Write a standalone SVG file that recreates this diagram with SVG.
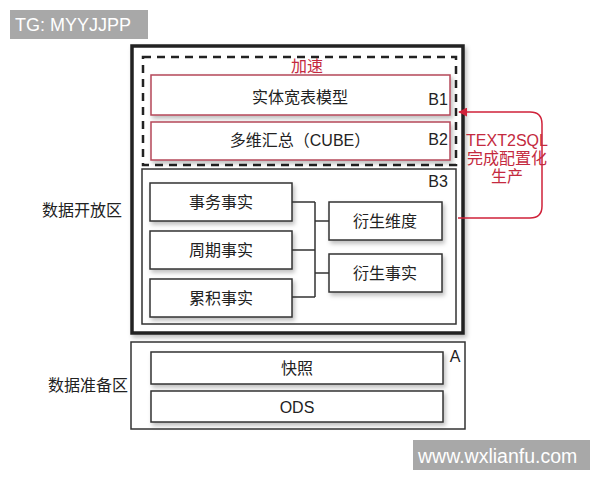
<svg xmlns="http://www.w3.org/2000/svg" width="600" height="480" viewBox="0 0 600 480">
<defs>
<filter id="sh" x="-10%" y="-20%" width="125%" height="150%">
<feDropShadow dx="2" dy="3" stdDeviation="2" flood-color="#000" flood-opacity="0.25"/>
</filter>
<marker id="arr" viewBox="0 0 10 10" refX="9" refY="5" markerWidth="6" markerHeight="6" orient="auto-start-reverse">
<path d="M0,0 L10,5 L0,10 z" fill="#d0223a"/>
</marker>
<style>
text{font-family:"Liberation Sans","Noto Sans CJK SC",sans-serif;font-size:16px;fill:#222;text-anchor:middle;dominant-baseline:central}
.box{fill:#fff;stroke:#333;stroke-width:1.5}
.rbox{fill:#fff;stroke:#b5485a;stroke-width:1.5}
.red{fill:#c42a40}
.wm{fill:#fff;font-size:18px;text-anchor:start}
.wm2{fill:#fff;font-size:19.5px;text-anchor:start}
.conn{fill:none;stroke:#333;stroke-width:1.5}
</style>
</defs>
<rect width="600" height="480" fill="#fff"/>

<g id="watermark-tg">
<rect x="10" y="10" width="138" height="29" fill="#a8a8a8"/>
<text class="wm" x="15" y="25">TG: MYYJJPP</text>
</g>

<g id="zone-open">
<rect x="132" y="46" width="331" height="287" fill="#fff" stroke="#222" stroke-width="3.5" filter="url(#sh)"/>
<text x="82" y="210">数据开放区</text>
</g>

<g id="accel">
<rect x="143" y="57" width="313" height="108" fill="none" stroke="#222" stroke-width="2.5" stroke-dasharray="8,6"/>
<text class="red" x="307" y="66">加速</text>
</g>

<g id="b1">
<rect class="rbox" x="151" y="75" width="299" height="40" filter="url(#sh)"/>
<text x="300" y="97">实体宽表模型</text>
<text x="438" y="99">B1</text>
</g>

<g id="b2">
<rect class="rbox" x="151" y="122" width="299" height="38" filter="url(#sh)"/>
<text x="300" y="140">多维汇总（CUBE）</text>
<text x="438" y="139">B2</text>
</g>

<g id="b3">
<rect class="box" x="142" y="169" width="314" height="155" stroke-width="1.2"/>
<text x="438" y="181">B3</text>
</g>

<g id="n-shiwu">
<rect class="box" x="150" y="183" width="142" height="38" filter="url(#sh)"/>
<text x="221" y="202">事务事实</text>
</g>
<g id="n-zhouqi">
<rect class="box" x="150" y="231" width="142" height="38" filter="url(#sh)"/>
<text x="221" y="250">周期事实</text>
</g>
<g id="n-leiji">
<rect class="box" x="150" y="279" width="142" height="38" filter="url(#sh)"/>
<text x="221" y="298">累积事实</text>
</g>
<g id="n-weidu">
<rect class="box" x="329" y="202" width="113" height="38" filter="url(#sh)"/>
<text x="385" y="221">衍生维度</text>
</g>
<g id="n-shishi">
<rect class="box" x="329" y="254" width="113" height="38" filter="url(#sh)"/>
<text x="385" y="273">衍生事实</text>
</g>

<g id="zone-prep">
<rect class="box" x="131" y="342" width="334" height="87" stroke-width="1.2"/>
<text x="88" y="385">数据准备区</text>
<text x="455" y="356">A</text>
</g>
<g id="n-kuaizhao">
<rect class="box" x="151" y="352" width="292" height="32" filter="url(#sh)"/>
<text x="297" y="368">快照</text>
</g>
<g id="n-ods">
<rect class="box" x="151" y="391" width="292" height="31" filter="url(#sh)"/>
<text x="297" y="407">ODS</text>
</g>

<g id="connectors">
<path class="conn" d="M292,202 H315 M292,250 H315 M292,297 H315 M315,202 V297 M315,221 H329 M315,273 H329"/>
<path d="M458,218 H530 Q542,218 542,206 V124 Q542,112 530,112 H459" fill="none" stroke="#d0223a" stroke-width="1.5" marker-end="url(#arr)"/>
</g>

<g id="t2s-label">
<text class="red" x="507" y="140">TEXT2SQL</text>
<text class="red" x="507" y="158">完成配置化</text>
<text class="red" x="507" y="176">生产</text>
</g>

<g id="watermark-site">
<rect x="413" y="440" width="177" height="30" fill="#a8a8a8"/>
<text class="wm2" x="418" y="456">www.wxlianfu.com</text>
</g>
</svg>
